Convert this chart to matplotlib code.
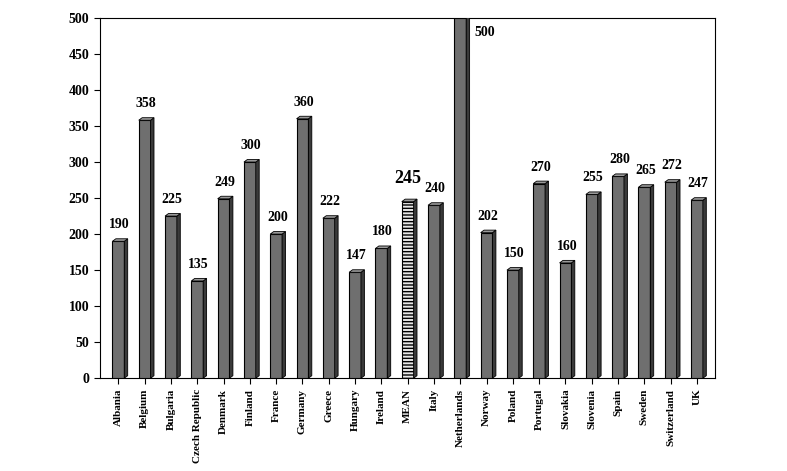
import matplotlib
matplotlib.use("Agg")
import matplotlib.pyplot as plt
from matplotlib.patches import Polygon

countries = ["Albania","Belgium","Bulgaria","Czech Republic","Denmark","Finland","France",
             "Germany","Greece","Hungary","Ireland","MEAN","Italy","Netherlands","Norway",
             "Poland","Portugal","Slovakia","Slovenia","Spain","Sweden","Switzerland","UK"]
values = [190,358,225,135,249,300,200,360,222,147,180,245,240,500,202,150,270,160,255,280,265,272,247]
yticks = [0,50,100,150,200,250,300,350,400,450,500]

plt.rcParams['font.family'] = ['Liberation Serif', 'DejaVu Serif']
fig = plt.figure(figsize=(7.87, 4.71), dpi=100)
ax = fig.add_axes([0.127, 0.197, 0.782, 0.765])
n = len(countries)
w = 0.45
dx, dy = 0.13, 3.5
for i, (c, v) in enumerate(zip(countries, values)):
    mean = c == "MEAN"
    fc = "#e8e8e8" if mean else "#6f6f6f"
    ax.bar(i, v, width=w, color=fc, edgecolor="black", linewidth=0.8,
           hatch="-----" if mean else None, zorder=3)
    x0, x1 = i - w/2, i + w/2
    ax.add_patch(Polygon([(x1, 0), (x1 + dx, dy), (x1 + dx, v + dy), (x1, v)],
                         closed=True, fc="#3a3a3a", ec="black", lw=0.6, zorder=3))
    ax.add_patch(Polygon([(x0, v), (x0 + dx, v + dy), (x1 + dx, v + dy), (x1, v)],
                         closed=True, fc="#9a9a9a", ec="black", lw=0.6, zorder=3))
    if c == "Netherlands":
        ax.text(i + 0.55, v - 20, str(v), ha="left", va="center", fontsize=10, fontweight="bold")
    elif mean:
        ax.text(i, v + 20, str(v), ha="center", va="bottom", fontsize=13, fontweight="bold")
    else:
        ax.text(i + 0.05, v + 14, str(v), ha="center", va="bottom", fontsize=10, fontweight="bold")

ax.set_xlim(-0.7, n - 0.3)
ax.set_ylim(0, 500)
ax.set_yticks(yticks)
ax.set_xticks(range(n))
ax.set_xticklabels(countries, rotation=90, fontsize=8, fontweight="bold")
ax.tick_params(axis="y", labelsize=10, direction="out", length=4)
ax.tick_params(axis="x", direction="out", length=4)
for lab in ax.get_yticklabels():
    lab.set_fontweight("bold")
for s in ax.spines.values():
    s.set_linewidth(0.8)
fig.savefig("out.png", dpi=100, facecolor="white")
